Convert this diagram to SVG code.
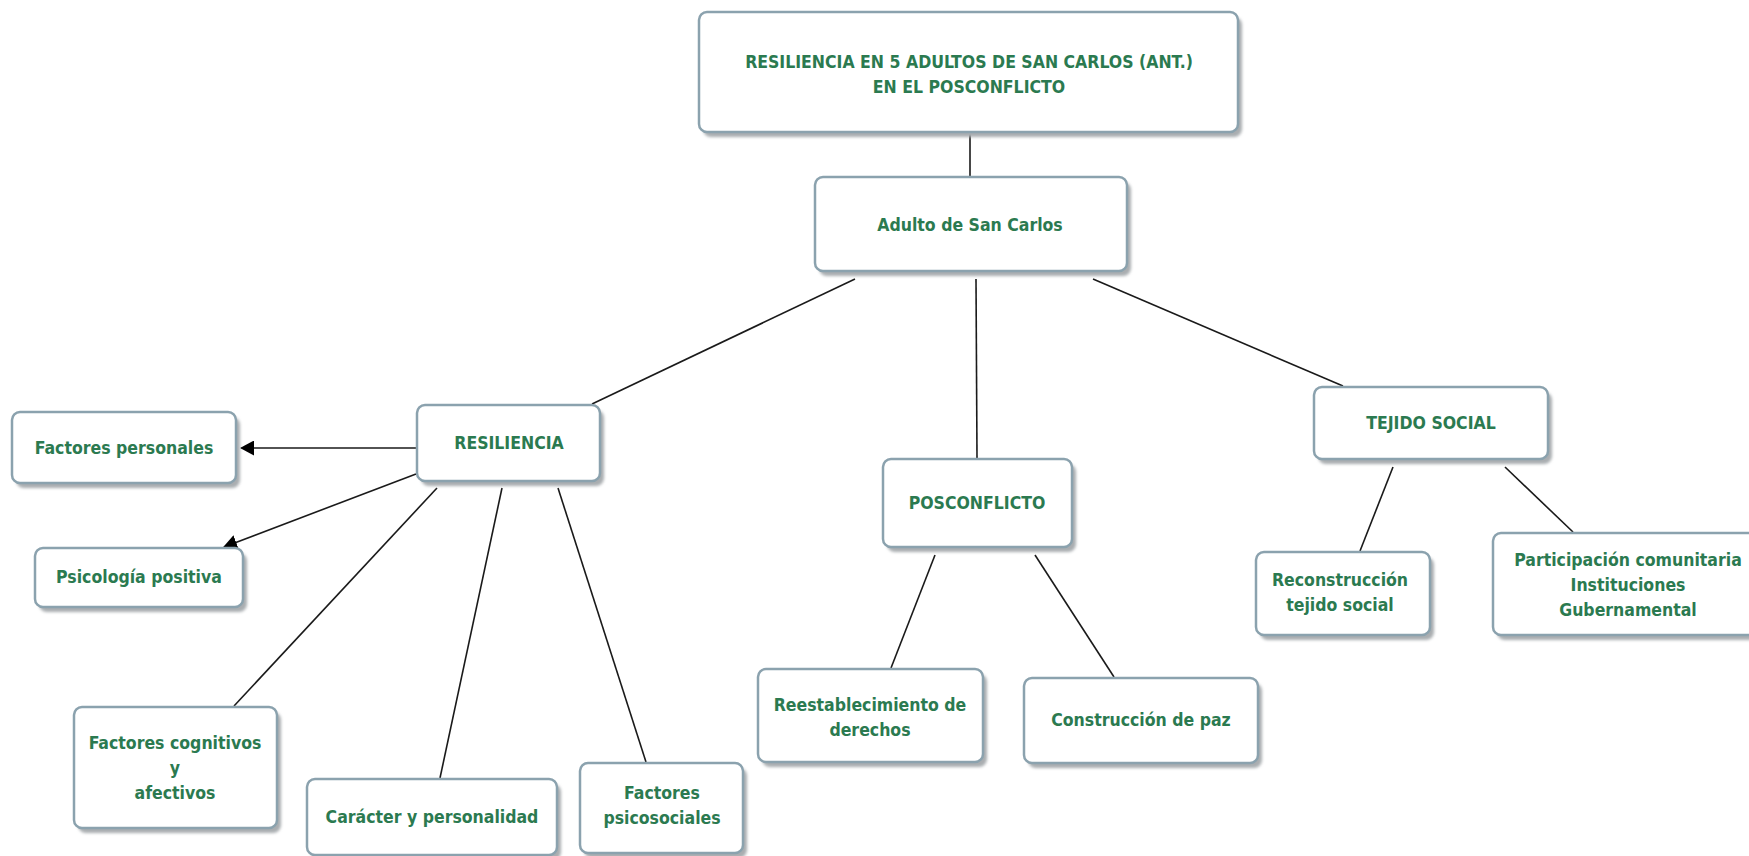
<svg xmlns="http://www.w3.org/2000/svg" width="1749" height="856" viewBox="0 0 1749 856">
<defs>
<filter id="blur" x="-10%" y="-10%" width="120%" height="130%"><feGaussianBlur stdDeviation="1.5"/></filter>
<marker id="arrow" markerUnits="userSpaceOnUse" markerWidth="14" markerHeight="15" viewBox="0 0 14 15" refX="13" refY="7.5" orient="auto"><path d="M0,0 L14,7.5 L0,15 z" fill="#000"/></marker>
</defs>
<style>
.sh{fill:#a9adb0;filter:url(#blur)}
.bx{fill:#fff;stroke:#8ba2ae;stroke-width:2.5}
.t{font-family:"DejaVu Sans Condensed","DejaVu Sans",sans-serif;font-weight:bold;font-size:17.5px;fill:#2b7a50;text-anchor:middle}
.c{stroke:#1a1a1a;stroke-width:1.6;fill:none}
</style>
<rect width="1749" height="856" fill="#fff"/>
<g id="connectors">
<line class="c" x1="970" y1="134" x2="970" y2="176"/>
<line class="c" x1="855" y1="279" x2="592" y2="404"/>
<line class="c" x1="976" y1="279" x2="977" y2="458"/>
<line class="c" x1="1093" y1="279" x2="1343" y2="386"/>
<line class="c" x1="416" y1="448" x2="241" y2="448" marker-end="url(#arrow)"/>
<line class="c" x1="416" y1="474" x2="224" y2="547" marker-end="url(#arrow)"/>
<line class="c" x1="437" y1="488" x2="234" y2="706"/>
<line class="c" x1="502" y1="488" x2="440" y2="778"/>
<line class="c" x1="558" y1="488" x2="646" y2="762"/>
<line class="c" x1="935" y1="555" x2="891" y2="668"/>
<line class="c" x1="1035" y1="555" x2="1114" y2="677"/>
<line class="c" x1="1393" y1="467" x2="1360" y2="551"/>
<line class="c" x1="1505" y1="467" x2="1573" y2="532"/>
</g>
<g id="title">
<rect class="sh" x="703" y="17" width="539" height="120" rx="8"/>
<rect class="bx" x="699" y="12" width="539" height="120" rx="8"/>
<text class="t" x="969" y="68">RESILIENCIA EN 5 ADULTOS DE SAN CARLOS (ANT.)</text>
<text class="t" x="969" y="93">EN EL POSCONFLICTO</text>
</g>
<g id="adulto">
<rect class="sh" x="819" y="182" width="312" height="94" rx="8"/>
<rect class="bx" x="815" y="177" width="312" height="94" rx="8"/>
<text class="t" x="970" y="231">Adulto de San Carlos</text>
</g>
<g id="resiliencia">
<rect class="sh" x="421" y="410" width="183" height="76" rx="8"/>
<rect class="bx" x="417" y="405" width="183" height="76" rx="8"/>
<text class="t" x="509" y="449">RESILIENCIA</text>
</g>
<g id="posconflicto">
<rect class="sh" x="887" y="464" width="189" height="88" rx="8"/>
<rect class="bx" x="883" y="459" width="189" height="88" rx="8"/>
<text class="t" x="977" y="509">POSCONFLICTO</text>
</g>
<g id="tejido">
<rect class="sh" x="1318" y="392" width="234" height="72" rx="8"/>
<rect class="bx" x="1314" y="387" width="234" height="72" rx="8"/>
<text class="t" x="1431" y="429">TEJIDO SOCIAL</text>
</g>
<g id="factores-personales">
<rect class="sh" x="16" y="417" width="224" height="71" rx="8"/>
<rect class="bx" x="12" y="412" width="224" height="71" rx="8"/>
<text class="t" x="124" y="454">Factores personales</text>
</g>
<g id="psicologia">
<rect class="sh" x="39" y="553" width="208" height="59" rx="8"/>
<rect class="bx" x="35" y="548" width="208" height="59" rx="8"/>
<text class="t" x="139" y="583">Psicología positiva</text>
</g>
<g id="cognitivos">
<rect class="sh" x="78" y="712" width="203" height="121" rx="8"/>
<rect class="bx" x="74" y="707" width="203" height="121" rx="8"/>
<text class="t" x="175" y="749">Factores cognitivos</text>
<text class="t" x="175" y="774">y</text>
<text class="t" x="175" y="799">afectivos</text>
</g>
<g id="caracter">
<rect class="sh" x="311" y="784" width="250" height="76" rx="8"/>
<rect class="bx" x="307" y="779" width="250" height="76" rx="8"/>
<text class="t" x="432" y="823">Carácter y personalidad</text>
</g>
<g id="psicosociales">
<rect class="sh" x="584" y="768" width="163" height="90" rx="8"/>
<rect class="bx" x="580" y="763" width="163" height="90" rx="8"/>
<text class="t" x="662" y="799">Factores</text>
<text class="t" x="662" y="824">psicosociales</text>
</g>
<g id="reestablecimiento">
<rect class="sh" x="762" y="674" width="225" height="93" rx="8"/>
<rect class="bx" x="758" y="669" width="225" height="93" rx="8"/>
<text class="t" x="870" y="711">Reestablecimiento de</text>
<text class="t" x="870" y="736">derechos</text>
</g>
<g id="construccion">
<rect class="sh" x="1028" y="683" width="234" height="85" rx="8"/>
<rect class="bx" x="1024" y="678" width="234" height="85" rx="8"/>
<text class="t" x="1141" y="726">Construcción de paz</text>
</g>
<g id="reconstruccion">
<rect class="sh" x="1260" y="557" width="174" height="83" rx="8"/>
<rect class="bx" x="1256" y="552" width="174" height="83" rx="8"/>
<text class="t" x="1340" y="586">Reconstrucción</text>
<text class="t" x="1340" y="611">tejido social</text>
</g>
<g id="participacion">
<rect class="sh" x="1497" y="538" width="270" height="102" rx="8"/>
<rect class="bx" x="1493" y="533" width="270" height="102" rx="8"/>
<text class="t" x="1628" y="566">Participación comunitaria</text>
<text class="t" x="1628" y="591">Instituciones</text>
<text class="t" x="1628" y="616">Gubernamental</text>
</g>
</svg>
